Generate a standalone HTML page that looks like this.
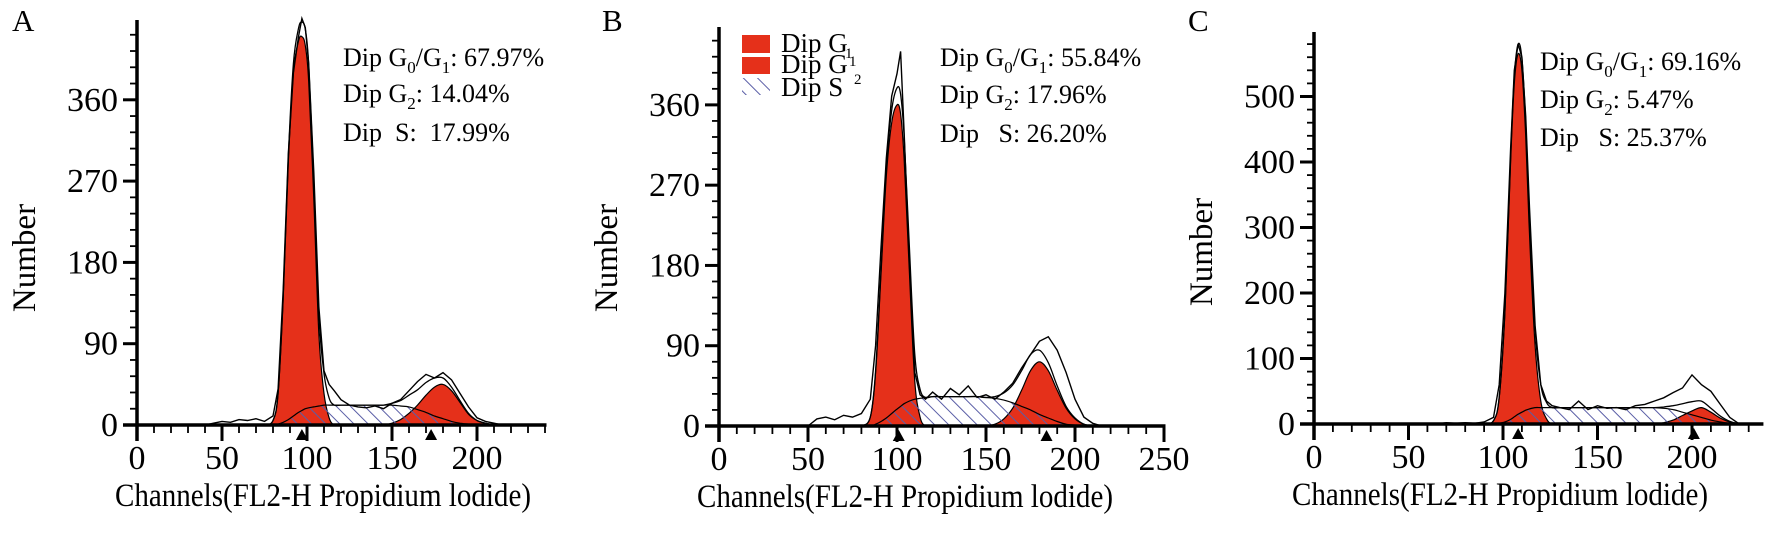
<!DOCTYPE html>
<html><head><meta charset="utf-8">
<style>
html,body{margin:0;padding:0;background:#fff;}
svg, svg text{font-family:"Liberation Serif","DejaVu Serif",serif;}
.pre{white-space:pre;}
</style></head>
<body>
<svg id="fig" width="1767" height="530" viewBox="0 0 1767 530" xmlns="http://www.w3.org/2000/svg" font-family="Liberation Serif, serif">
<defs>
<pattern id="hatch" patternUnits="userSpaceOnUse" width="10" height="10" patternTransform="rotate(-45)">
<line x1="0" y1="0" x2="0" y2="10" stroke="#5a5ea6" stroke-width="2"/>
</pattern>
</defs>
</svg>
<script>
// ---------- Panel A data ----------
const chA = [40,45,50,55,60,65,70,75,80,83,86,89,92,95,97,99,101,104,107,110,113,116,120,125,130,135,140,145,150,155,160,165,170,175,180,185,190,195,200,205,210,215];
const rawA = [0,2,4,3,6,5,7,4,10,40,150,300,390,430,450,440,400,280,130,60,45,38,28,22,20,19,21,18,24,28,38,48,56,52,58,50,35,20,8,4,2,0];
const g1A = [0,0,0,0,0,0,0,0,5,35,140,290,390,425,430,420,380,250,100,35,8,0,0,0,0,0,0,0,0,0,0,0,0,0,0,0,0,0,0,0,0,0];
const sA = [0,0,0,0,0,0,0,0,0,1,3,6,10,14,16,18,19,20,21,22,22,22,22,22,22,22,22,22,22,21,20,17,14,10,7,4,2,1,0,0,0,0];
const g2A = [0,0,0,0,0,0,0,0,0,0,0,0,0,0,0,0,0,0,0,0,0,0,0,0,0,0,0,0,2,6,13,22,33,42,45,38,25,12,5,2,0,0];
const markA = [97,173];
const yTicksA = [0,90,180,270,360];
const xTicksA = [0,50,100,150,200];
const statsA = ["67.97%","14.04%","17.99%"];

// ---------- Panel B data ----------
const chB = [50,55,60,65,70,75,80,85,88,91,94,97,100,102,104,107,110,113,116,120,125,130,135,140,145,150,155,160,165,170,175,180,185,190,195,200,205,210,215];
const rawB = [0,8,10,7,12,10,14,30,90,200,300,370,395,420,330,180,60,35,30,38,30,42,35,45,32,35,30,38,48,65,80,95,100,85,60,30,10,3,0];
const g1B = [0,0,0,0,0,0,0,10,60,170,280,340,360,350,300,170,50,10,0,0,0,0,0,0,0,0,0,0,0,0,0,0,0,0,0,0,0,0,0];
const sB = [0,0,0,0,0,0,0,0,2,5,9,14,19,22,25,28,30,31,32,33,33,33,33,33,33,32,31,29,26,22,18,13,9,5,2,1,0,0,0];
const g2B = [0,0,0,0,0,0,0,0,0,0,0,0,0,0,0,0,0,0,0,0,0,0,0,0,0,0,2,8,20,40,62,72,62,40,20,8,2,0,0];
const markB = [101,184];
const yTicksB = [0,90,180,270,360];
const xTicksB = [0,50,100,150,200,250];
const statsB = ["55.84%","17.96%","26.20%"];

// ---------- Panel C data ----------
const chC = [60,65,70,75,80,85,90,95,98,101,104,106,108,110,112,114,117,120,123,126,130,135,140,145,150,155,160,165,170,175,180,185,190,195,200,205,210,215,220,225];
const rawC = [1,0,2,1,2,1,3,10,60,200,420,540,580,560,470,330,150,60,35,28,25,22,35,22,28,24,25,22,28,30,35,40,48,55,75,60,50,30,10,0];
const g1C = [0,0,0,0,0,0,0,5,40,170,400,520,565,540,440,290,120,35,8,0,0,0,0,0,0,0,0,0,0,0,0,0,0,0,0,0,0,0,0,0];
const sC = [0,0,0,0,0,0,0,0,1,3,7,11,15,18,21,23,25,25,25,25,25,25,25,25,25,25,25,25,25,25,25,24,22,18,14,10,6,3,1,0];
const g2C = [0,0,0,0,0,0,0,0,0,0,0,0,0,0,0,0,0,0,0,0,0,0,0,0,0,0,0,0,0,0,0,2,6,13,20,25,18,9,3,0];
const markC = [108,201];
const yTicksC = [0,100,200,300,400,500];
const xTicksC = [0,50,100,150,200];
const statsC = ["69.16%","5.47%","25.37%"];

const NS = "http://www.w3.org/2000/svg";
const svg = document.getElementById('fig');
const FF = '"Liberation Serif", "DejaVu Serif", serif';
function mk(tag, attrs, parent){
  const e = document.createElementNS(NS, tag);
  for (const k in attrs) e.setAttribute(k, attrs[k]);
  if (tag === 'text') e.style.fontFamily = FF;
  (parent||svg).appendChild(e);
  return e;
}
function smoothPath(pts){
  let d = "M"+pts[0][0].toFixed(1)+","+pts[0][1].toFixed(1);
  for (let i=0;i<pts.length-1;i++){
    const p0=pts[Math.max(0,i-1)], p1=pts[i], p2=pts[i+1], p3=pts[Math.min(pts.length-1,i+2)];
    const c1x=p1[0]+(p2[0]-p0[0])/6, c1y=p1[1]+(p2[1]-p0[1])/6;
    const c2x=p2[0]-(p3[0]-p1[0])/6, c2y=p2[1]-(p3[1]-p1[1])/6;
    d += " C"+c1x.toFixed(1)+","+c1y.toFixed(1)+" "+c2x.toFixed(1)+","+c2y.toFixed(1)+" "+p2[0].toFixed(1)+","+p2[1].toFixed(1);
  }
  return d;
}

function panel(cfg){
  const g = mk('g',{});
  
  
  const X = v => cfg.ox + v*cfg.xs;
  const Y = v => Math.min(cfg.oy, cfg.oy - v*cfg.ys);
  const ch = cfg.ch;
  const pts = arr => ch.map((c,i)=>[X(c), Y(arr[i])]);
  const fit = ch.map((c,i)=>cfg.g1[i]+cfg.g2[i]+cfg.s[i]);

  [cfg.g1, cfg.g2].forEach((arr,k)=>{
    const d = smoothPath(pts(arr)) + " L"+X(ch[ch.length-1])+","+cfg.oy+" L"+X(ch[0])+","+cfg.oy+" Z";
    const p = mk('path',{d:d, fill:'#e5301a', stroke:'#000', 'stroke-width':1.2}, g);
    
    
  });
  const sd = smoothPath(pts(cfg.s)) + " L"+X(ch[ch.length-1])+","+cfg.oy+" L"+X(ch[0])+","+cfg.oy+" Z";
  const sp = mk('path',{d:sd, fill:'url(#hatch)', stroke:'#000', 'stroke-width':1.2}, g);
  
  
  const fp = mk('path',{d:smoothPath(pts(fit)), fill:'none', stroke:'#000', 'stroke-width':1.3}, g);
  
  
  const rp = mk('polyline',{points:pts(cfg.raw).map(p=>p[0].toFixed(1)+","+p[1].toFixed(1)).join(" "), fill:'none', stroke:'#000', 'stroke-width':1.4}, g);
  
  

  const ya = mk('line',{x1:cfg.ox,y1:cfg.top,x2:cfg.ox,y2:cfg.oy+16,stroke:'#000','stroke-width':3.5}, g);
  
  
  const xa = mk('line',{x1:cfg.ox-14,y1:cfg.oy,x2:X(cfg.xmax)+1.5,y2:cfg.oy,stroke:'#000','stroke-width':3.5}, g);
  
  
  for (let v=cfg.yminor; v<=cfg.ytop; v+=cfg.yminor){
    const t = mk('line',{x1:cfg.ox-7,y1:Y(v),x2:cfg.ox,y2:Y(v),stroke:'#000','stroke-width':1.8}, g);
    
    
  }
  cfg.yTicks.forEach(v=>{
    const t = mk('line',{x1:cfg.ox-14,y1:Y(v),x2:cfg.ox,y2:Y(v),stroke:'#000','stroke-width':3}, g);
    
    
    const l = mk('text',{x:cfg.ox-19,y:Y(v)+11,'text-anchor':'end','font-size':34}, g);
    l.textContent = v;
    
    
  });
  for (let v=10; v<=cfg.xmaxTick; v+=10){
    const t = mk('line',{x1:X(v),y1:cfg.oy,x2:X(v),y2:cfg.oy+8,stroke:'#000','stroke-width':1.8}, g);
    
    
  }
  cfg.xTicks.forEach(v=>{
    const t = mk('line',{x1:X(v),y1:cfg.oy,x2:X(v),y2:cfg.oy+16,stroke:'#000','stroke-width':3}, g);
    
    
    const l = mk('text',{x:X(v),y:cfg.oy+44,'text-anchor':'middle','font-size':34}, g);
    l.textContent = v;
    
    
  });
  cfg.marks.forEach(v=>{
    const m = mk('polygon',{points:(X(v)-6)+","+(cfg.oy+15)+" "+(X(v)+6)+","+(cfg.oy+15)+" "+X(v)+","+(cfg.oy+4), fill:'#000'}, g);
    
    
  });
  const xt = mk('text',{x:cfg.ox-22,y:cfg.oy+81,'font-size':33,textLength:416,lengthAdjust:'spacingAndGlyphs'}, g);
  xt.textContent = "Channels(FL2-H Propidium lodide)";
  
  
  const yt = mk('text',{x:0,y:0,'font-size':33,'text-anchor':'middle',transform:'translate('+(cfg.ox-102)+','+cfg.ycenter+') rotate(-90)'}, g);
  yt.textContent = "Number";
  
  
  const pl = mk('text',{x:cfg.letterX,y:31,'font-size':31}, g);
  pl.textContent = cfg.id;
  
  
  const sx = cfg.statX, fs = 26;
  const t1 = mk('text',{x:sx,y:cfg.statY[0],'font-size':fs}, g);
  t1.innerHTML = 'Dip G<tspan dy="7" font-size="17">0</tspan><tspan dy="-7">/G</tspan><tspan dy="7" font-size="17">1</tspan><tspan dy="-7">: '+cfg.stats[0]+'</tspan>';
  
  
  const t2 = mk('text',{x:sx,y:cfg.statY[1],'font-size':fs}, g);
  t2.innerHTML = 'Dip G<tspan dy="7" font-size="17">2</tspan><tspan dy="-7">: '+cfg.stats[1]+'</tspan>';
  
  
  const t3 = mk('text',{x:sx,y:cfg.statY[2],'font-size':fs,'class':'pre'}, g);
  t3.textContent = cfg.sLabel + cfg.stats[2];
  
  
}

panel({id:'A', ox:137, oy:425, xs:1.7, ys:81.3/90, top:20, xmax:240, xmaxTick:240, ytop:432, yminor:18,
  ch:chA, raw:rawA, g1:g1A, g2:g2A, s:sA, marks:markA, yTicks:yTicksA, xTicks:xTicksA, stats:statsA,
  statX:343, statY:[66,102,141], sLabel:'Dip  S:  ', ycenter:258, letterX:12});
panel({id:'B', ox:719, oy:426, xs:1.78, ys:0.892, top:27, xmax:250, xmaxTick:250, ytop:432, yminor:18,
  ch:chB, raw:rawB, g1:g1B, g2:g2B, s:sB, marks:markB, yTicks:yTicksB, xTicks:xTicksB, stats:statsB,
  statX:940, statY:[66,103,142], sLabel:'Dip   S: ', ycenter:258, letterX:602});
panel({id:'C', ox:1314, oy:424, xs:1.89, ys:0.655, top:32, xmax:237, xmaxTick:230, ytop:580, yminor:20,
  ch:chC, raw:rawC, g1:g1C, g2:g2C, s:sC, marks:markC, yTicks:yTicksC, xTicks:xTicksC, stats:statsC,
  statX:1540, statY:[70,108,146], sLabel:'Dip   S: ', ycenter:252, letterX:1188});

const lg = mk('g',{});


const sw1 = mk('rect',{x:742,y:35,width:28,height:18,fill:'#e5301a'}, lg);


const sw2 = mk('rect',{x:742,y:57,width:28,height:17,fill:'#e5301a'}, lg);


const sw3 = mk('rect',{x:742,y:78,width:28,height:17,fill:'url(#hatch)'}, lg);


const lt1 = mk('text',{x:781,y:52,'font-size':27}, lg);
lt1.textContent = 'Dip G';


const lt2 = mk('text',{x:781,y:73,'font-size':27}, lg);
lt2.textContent = 'Dip G';


const lt3 = mk('text',{x:781,y:96,'font-size':27}, lg);
lt3.textContent = 'Dip S';


const ls1 = mk('text',{x:845,y:58,'font-size':15}, lg);
ls1.textContent = '1';


const ls2 = mk('text',{x:849,y:66,'font-size':15}, lg);
ls2.textContent = '1';


const ls3 = mk('text',{x:854,y:84,'font-size':15}, lg);
ls3.textContent = '2';


</script>
</body></html>
